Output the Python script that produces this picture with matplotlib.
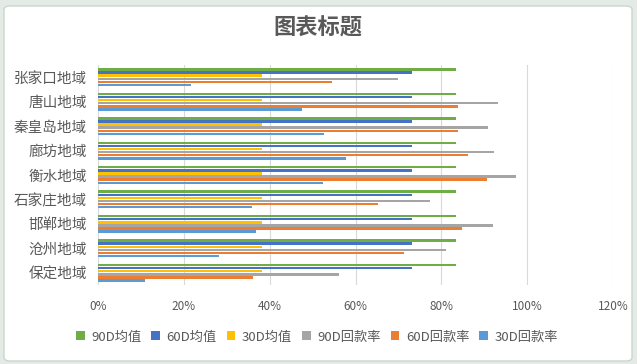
import matplotlib
matplotlib.use("Agg")
import matplotlib.pyplot as plt
from matplotlib.patches import FancyBboxPatch
import numpy as np

plt.rcParams['font.family'] = ['Noto Sans CJK SC', 'DejaVu Sans']

categories = ["保定地域", "沧州地域", "邯郸地域", "石家庄地域", "衡水地域",
              "廊坊地域", "秦皇岛地域", "唐山地域", "张家口地域"]
series_names = ["90D均值", "60D均值", "30D均值", "90D回款率", "60D回款率", "30D回款率"]
colors = ["#70AD47", "#4472C4", "#FFC000", "#A5A5A5", "#ED7D31", "#5B9BD5"]

avg90 = [83.4, 83.4, 83.4, 83.4, 83.4, 83.4, 83.4, 83.4, 83.4]
avg60 = [73.1, 73.1, 73.1, 73.1, 73.1, 73.1, 73.1, 73.1, 73.1]
avg30 = [38.1, 38.1, 38.1, 38.1, 38.1, 38.1, 38.1, 38.1, 38.1]
rate90 = [56.2, 81.0, 92.0, 77.3, 97.4, 92.3, 90.9, 93.2, 69.8]
rate60 = [36.2, 71.4, 84.8, 65.3, 90.6, 86.2, 83.8, 83.8, 54.6]
rate30 = [11.0, 28.1, 36.8, 35.8, 52.5, 57.8, 52.7, 47.5, 21.7]
xticks = [0, 20, 40, 60, 80, 100, 120]

series = [avg90, avg60, avg30, rate90, rate60, rate30]

fig = plt.figure(figsize=(6.37, 3.64), dpi=100)
fig.patch.set_facecolor("#E4EBE7")
bg = FancyBboxPatch((4/637, 3/364), 628/637, 355/364, boxstyle="round,pad=0,rounding_size=0.01",
                    transform=fig.transFigure, facecolor="white", edgecolor="#C9D6CF", lw=1.0,
                    zorder=-10)
fig.patches.append(bg)

ax = fig.add_axes([98/637, 1-285/364, (613-98)/637, (285-65)/364])
ax.set_zorder(5)
ax.patch.set_alpha(0)
y = np.arange(len(categories))
step = 0.127
h = 0.1
for i, (vals, col, name) in enumerate(zip(series, colors, series_names)):
    offs = (2.5 - i) * step
    ax.barh(y + offs, vals, height=h, color=col, label=name, zorder=3)

ax.set_xlim(0, 120)
ax.set_ylim(-0.5, len(categories) - 0.5)
ax.set_xticks(xticks)
ax.set_xticklabels([f"{t}%" for t in xticks], fontsize=8.5, color="#595959")
ax.set_yticks(y)
ax.set_yticklabels(categories, fontsize=10.5, color="#595959")
ax.tick_params(axis='both', length=0)
ax.tick_params(axis='x', pad=11)
ax.tick_params(axis='y', pad=8)
ax.grid(axis='x', color="#D9D9D9", lw=0.8, zorder=0)
for s in ax.spines.values():
    s.set_visible(False)

fig.text(318/637, 1-28/364, "图表标题", ha='center', va='center', fontsize=16,
         fontweight='bold', color="#595959")

leg = ax.legend(loc='center', bbox_to_anchor=(317/637, 1-337/364), bbox_transform=fig.transFigure,
                ncol=6, frameon=False, fontsize=9.5, handlelength=0.65, handleheight=0.65,
                handletextpad=0.5, columnspacing=0.75, labelcolor="#595959")

fig.savefig("out.png", dpi=100, facecolor=fig.get_facecolor())
